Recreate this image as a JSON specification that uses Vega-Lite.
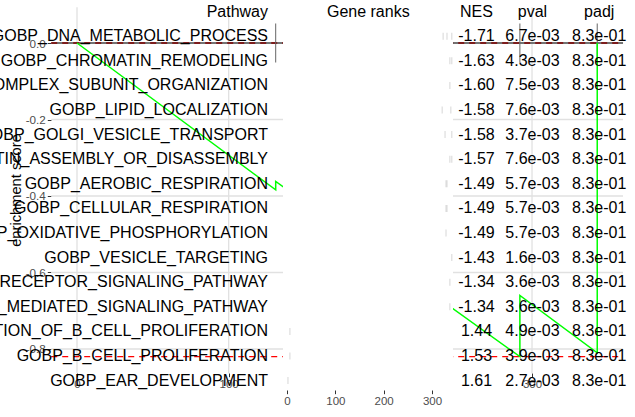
{
  "$schema": "https://vega.github.io/schema/vega-lite/v6.json",
  "width": 635,
  "height": 417,
  "padding": 0,
  "autosize": {"type": "none"},
  "background": "white",
  "config": {
    "view": {"stroke": null},
    "font": "Liberation Sans",
    "axis": {"labelFont": "Liberation Sans", "titleFont": "Liberation Sans"},
    "text": {"font": "Liberation Sans"}
  },
  "datasets": {
    "rows": [
      {"row": 0, "pathway": "Pathway", "NES": "NES", "pval": "pval", "padj": "padj"},
      {"row": 1, "pathway": "GOBP_DNA_METABOLIC_PROCESS", "NES": "-1.71", "pval": "6.7e-03", "padj": "8.3e-01"},
      {"row": 2, "pathway": "GOBP_CHROMATIN_REMODELING", "NES": "-1.63", "pval": "4.3e-03", "padj": "8.3e-01"},
      {"row": 3, "pathway": "GOBP_PROTEIN_CONTAINING_COMPLEX_SUBUNIT_ORGANIZATION", "NES": "-1.60", "pval": "7.5e-03", "padj": "8.3e-01"},
      {"row": 4, "pathway": "GOBP_LIPID_LOCALIZATION", "NES": "-1.58", "pval": "7.6e-03", "padj": "8.3e-01"},
      {"row": 5, "pathway": "GOBP_GOLGI_VESICLE_TRANSPORT", "NES": "-1.58", "pval": "3.7e-03", "padj": "8.3e-01"},
      {"row": 6, "pathway": "GOBP_CHROMATIN_ASSEMBLY_OR_DISASSEMBLY", "NES": "-1.57", "pval": "7.6e-03", "padj": "8.3e-01"},
      {"row": 7, "pathway": "GOBP_AEROBIC_RESPIRATION", "NES": "-1.49", "pval": "5.7e-03", "padj": "8.3e-01"},
      {"row": 8, "pathway": "GOBP_CELLULAR_RESPIRATION", "NES": "-1.49", "pval": "5.7e-03", "padj": "8.3e-01"},
      {"row": 9, "pathway": "GOBP_OXIDATIVE_PHOSPHORYLATION", "NES": "-1.49", "pval": "5.7e-03", "padj": "8.3e-01"},
      {"row": 10, "pathway": "GOBP_VESICLE_TARGETING", "NES": "-1.43", "pval": "1.6e-03", "padj": "8.3e-01"},
      {"row": 11, "pathway": "GOBP_B_CELL_RECEPTOR_SIGNALING_PATHWAY", "NES": "-1.34", "pval": "3.6e-03", "padj": "8.3e-01"},
      {"row": 12, "pathway": "GOBP_ANTIGEN_RECEPTOR_MEDIATED_SIGNALING_PATHWAY", "NES": "-1.34", "pval": "3.6e-03", "padj": "8.3e-01"},
      {"row": 13, "pathway": "GOBP_REGULATION_OF_B_CELL_PROLIFERATION", "NES": "1.44", "pval": "4.9e-03", "padj": "8.3e-01"},
      {"row": 14, "pathway": "GOBP_B_CELL_PROLIFERATION", "NES": "1.53", "pval": "3.9e-03", "padj": "8.3e-01"},
      {"row": 15, "pathway": "GOBP_EAR_DEVELOPMENT", "NES": "1.61", "pval": "2.7e-03", "padj": "8.3e-01"}
    ],
    "gene_ticks": [
      {"row": 1, "rank": 323}, {"row": 1, "rank": 331}, {"row": 1, "rank": 341},
      {"row": 2, "rank": 337}, {"row": 2, "rank": 341},
      {"row": 3, "rank": 337},
      {"row": 4, "rank": 321}, {"row": 4, "rank": 339},
      {"row": 5, "rank": 327}, {"row": 5, "rank": 341},
      {"row": 6, "rank": 337}, {"row": 6, "rank": 341},
      {"row": 7, "rank": 329}, {"row": 7, "rank": 331},
      {"row": 8, "rank": 329}, {"row": 8, "rank": 331},
      {"row": 9, "rank": 329},
      {"row": 10, "rank": 341},
      {"row": 11, "rank": 337},
      {"row": 12, "rank": 337},
      {"row": 13, "rank": 6},
      {"row": 14, "rank": 6},
      {"row": 15, "rank": 2}
    ],
    "es_xgrid": [{"rank": 0}, {"rank": 100}, {"rank": 200}, {"rank": 300}],
    "es_ygrid": [{"es": 0}, {"es": -0.2}, {"es": -0.4}, {"es": -0.6}, {"es": -0.8}],
    "es_limits": [{"es": 0}, {"es": -0.82}],
    "es_hits": [{"rank": 131}, {"rank": 292}, {"rank": 343}],
    "es_curve": [
      {"i": 0, "rank": 0, "es": 0},
      {"i": 1, "rank": 131, "es": -0.384},
      {"i": 2, "rank": 131, "es": -0.362},
      {"i": 3, "rank": 292, "es": -0.82},
      {"i": 4, "rank": 292, "es": -0.66},
      {"i": 5, "rank": 343, "es": -0.81},
      {"i": 6, "rank": 343, "es": 0}
    ]
  },
  "resolve": {"scale": {"x": "independent", "y": "independent"}, "axis": {"x": "independent", "y": "independent"}},
  "layer": [
    {
      "data": {"name": "es_xgrid"},
      "mark": {"type": "rule", "stroke": "#E1E1E1", "strokeWidth": 1.3},
      "encoding": {
        "x": {"field": "rank", "type": "quantitative", "scale": {"domain": [-50.77, 367.9], "nice": false, "zero": false}, "axis": null},
        "y": {"datum": 0.0935, "type": "quantitative", "scale": {"domain": [-0.97778, 0.11242], "nice": false, "zero": false}, "axis": null},
        "y2": {"datum": -0.8635}
      }
    },
    {
      "data": {"name": "es_ygrid"},
      "mark": {"type": "rule", "stroke": "#E1E1E1", "strokeWidth": 1.3},
      "encoding": {
        "x": {"datum": -17, "type": "quantitative", "scale": {"domain": [-50.77, 367.9], "nice": false, "zero": false}, "axis": null},
        "x2": {"datum": 360},
        "y": {"field": "es", "type": "quantitative", "scale": {"domain": [-0.97778, 0.11242], "nice": false, "zero": false}, "axis": null}
      }
    },
    {
      "data": {"name": "es_xgrid"},
      "mark": {"type": "tick", "orient": "vertical", "opacity": 0},
      "encoding": {
        "x": {"field": "rank", "type": "quantitative",
              "scale": {"domain": [-50.77, 367.9], "nice": false, "zero": false},
              "axis": {"orient": "bottom", "offset": -44, "values": [0, 100, 200, 300], "domain": false, "grid": false,
                       "tickSize": 3.7, "tickColor": "#333333", "tickWidth": 1, "labelColor": "#4D4D4D", "labelFontSize": 11.5,
                       "labelPadding": 2, "title": null, "labelFlush": false, "labelOverlap": false}}
      }
    },
    {
      "data": {"name": "es_ygrid"},
      "mark": {"type": "tick", "orient": "horizontal", "opacity": 0},
      "encoding": {
        "y": {"field": "es", "type": "quantitative",
              "scale": {"domain": [-0.97778, 0.11242], "nice": false, "zero": false},
              "axis": {"orient": "left", "offset": -51, "values": [0, -0.2, -0.4, -0.6, -0.8],
                       "labelExpr": "replace(format(datum.value, '.1f'), '\u2212', '-')",
                       "domain": false, "grid": false, "tickSize": 3.7, "tickColor": "#333333", "tickWidth": 1,
                       "labelColor": "#4D4D4D", "labelFontSize": 11.7, "labelPadding": 2, "labelOverlap": false, "labelFlush": false,
                       "title": "enrichment score", "titleFontSize": 14.7, "titleFontWeight": "normal", "titleColor": "#000000",
                       "titleY": 190, "titlePadding": 2}}
      }
    },
    {
      "data": {"name": "es_limits"},
      "mark": {"type": "rule", "stroke": "#FF0000", "strokeWidth": 1.4, "strokeDash": [6, 5]},
      "encoding": {
        "x": {"datum": -17, "type": "quantitative", "scale": {"domain": [-50.77, 367.9], "nice": false, "zero": false}, "axis": null},
        "x2": {"datum": 360},
        "y": {"field": "es", "type": "quantitative", "scale": {"domain": [-0.97778, 0.11242], "nice": false, "zero": false}, "axis": null}
      }
    },
    {
      "data": {"values": [{"es": 0}]},
      "mark": {"type": "rule", "stroke": "#000000", "strokeWidth": 1},
      "encoding": {
        "x": {"datum": -17, "type": "quantitative", "scale": {"domain": [-50.77, 367.9], "nice": false, "zero": false}, "axis": null},
        "x2": {"datum": 360},
        "y": {"field": "es", "type": "quantitative", "scale": {"domain": [-0.97778, 0.11242], "nice": false, "zero": false}, "axis": null}
      }
    },
    {
      "data": {"name": "es_hits"},
      "mark": {"type": "rule", "stroke": "#666666", "strokeWidth": 1},
      "encoding": {
        "x": {"field": "rank", "type": "quantitative", "scale": {"domain": [-50.77, 367.9], "nice": false, "zero": false}, "axis": null},
        "y": {"datum": -0.051, "type": "quantitative", "scale": {"domain": [-0.97778, 0.11242], "nice": false, "zero": false}, "axis": null},
        "y2": {"datum": 0.051}
      }
    },
    {
      "data": {"name": "es_curve"},
      "mark": {"type": "line", "stroke": "#00FF00", "strokeWidth": 1.5},
      "encoding": {
        "x": {"field": "rank", "type": "quantitative", "scale": {"domain": [-50.77, 367.9], "nice": false, "zero": false}, "axis": null},
        "y": {"field": "es", "type": "quantitative", "scale": {"domain": [-0.97778, 0.11242], "nice": false, "zero": false}, "axis": null},
        "order": {"field": "i", "type": "quantitative"}
      }
    },
    {
      "data": {"values": [{"mask": "gene ranks panel"}]},
      "mark": {"type": "rect", "fill": "#FFFFFF", "opacity": 1},
      "encoding": {
        "x": {"datum": 135.8, "type": "quantitative", "scale": {"domain": [-50.77, 367.9], "nice": false, "zero": false}, "axis": null},
        "x2": {"datum": 247.9},
        "y": {"datum": 0.11242, "type": "quantitative", "scale": {"domain": [-0.97778, 0.11242], "nice": false, "zero": false}, "axis": null},
        "y2": {"datum": -0.97778}
      }
    },
    {
      "data": {"name": "gene_ticks"},
      "mark": {"type": "tick", "orient": "vertical", "color": "#C4C4C4", "size": 7, "thickness": 1},
      "encoding": {
        "x": {"field": "rank", "type": "quantitative",
              "scale": {"domain": [-593.8, 720.0], "nice": false, "zero": false},
              "axis": {"orient": "bottom", "offset": -27, "values": [0, 100, 200, 300], "domain": false, "grid": false,
                       "tickSize": 3.7, "tickColor": "#333333", "tickWidth": 1, "labelColor": "#4D4D4D", "labelFontSize": 11.5,
                       "labelPadding": 1.5, "title": null, "labelFlush": false, "labelOverlap": false, "zindex": 1}},
        "y": {"field": "row", "type": "quantitative", "scale": {"domain": [-0.4715, 16.4797], "nice": false, "zero": false, "reverse": true}, "axis": null}
      }
    },
    {
      "data": {"name": "rows"},
      "mark": {"type": "text", "align": "right", "baseline": "middle", "fontSize": 16, "color": "#000000"},
      "encoding": {
        "x": {"datum": -39.3, "type": "quantitative", "scale": {"domain": [-593.8, 720.0], "nice": false, "zero": false}, "axis": null},
        "y": {"field": "row", "type": "quantitative", "scale": {"domain": [-0.4715, 16.4797], "nice": false, "zero": false, "reverse": true}, "axis": null},
        "text": {"field": "pathway"}
      }
    },
    {
      "data": {"values": [{"row": 0, "label": "Gene ranks"}]},
      "mark": {"type": "text", "align": "center", "baseline": "middle", "fontSize": 16, "color": "#000000"},
      "encoding": {
        "x": {"datum": 168.2, "type": "quantitative", "scale": {"domain": [-593.8, 720.0], "nice": false, "zero": false}, "axis": null},
        "y": {"field": "row", "type": "quantitative", "scale": {"domain": [-0.4715, 16.4797], "nice": false, "zero": false, "reverse": true}, "axis": null},
        "text": {"field": "label"}
      }
    },
    {
      "data": {"name": "rows"},
      "mark": {"type": "text", "align": "center", "baseline": "middle", "fontSize": 16, "color": "#000000"},
      "encoding": {
        "x": {"datum": 392.1, "type": "quantitative", "scale": {"domain": [-593.8, 720.0], "nice": false, "zero": false}, "axis": null},
        "y": {"field": "row", "type": "quantitative", "scale": {"domain": [-0.4715, 16.4797], "nice": false, "zero": false, "reverse": true}, "axis": null},
        "text": {"field": "NES"}
      }
    },
    {
      "data": {"name": "rows"},
      "mark": {"type": "text", "align": "center", "baseline": "middle", "fontSize": 16, "color": "#000000"},
      "encoding": {
        "x": {"datum": 507.9, "type": "quantitative", "scale": {"domain": [-593.8, 720.0], "nice": false, "zero": false}, "axis": null},
        "y": {"field": "row", "type": "quantitative", "scale": {"domain": [-0.4715, 16.4797], "nice": false, "zero": false, "reverse": true}, "axis": null},
        "text": {"field": "pval"}
      }
    },
    {
      "data": {"name": "rows"},
      "mark": {"type": "text", "align": "center", "baseline": "middle", "fontSize": 16, "color": "#000000"},
      "encoding": {
        "x": {"datum": 646.0, "type": "quantitative", "scale": {"domain": [-593.8, 720.0], "nice": false, "zero": false}, "axis": null},
        "y": {"field": "row", "type": "quantitative", "scale": {"domain": [-0.4715, 16.4797], "nice": false, "zero": false, "reverse": true}, "axis": null},
        "text": {"field": "padj"}
      }
    }
  ]
}
